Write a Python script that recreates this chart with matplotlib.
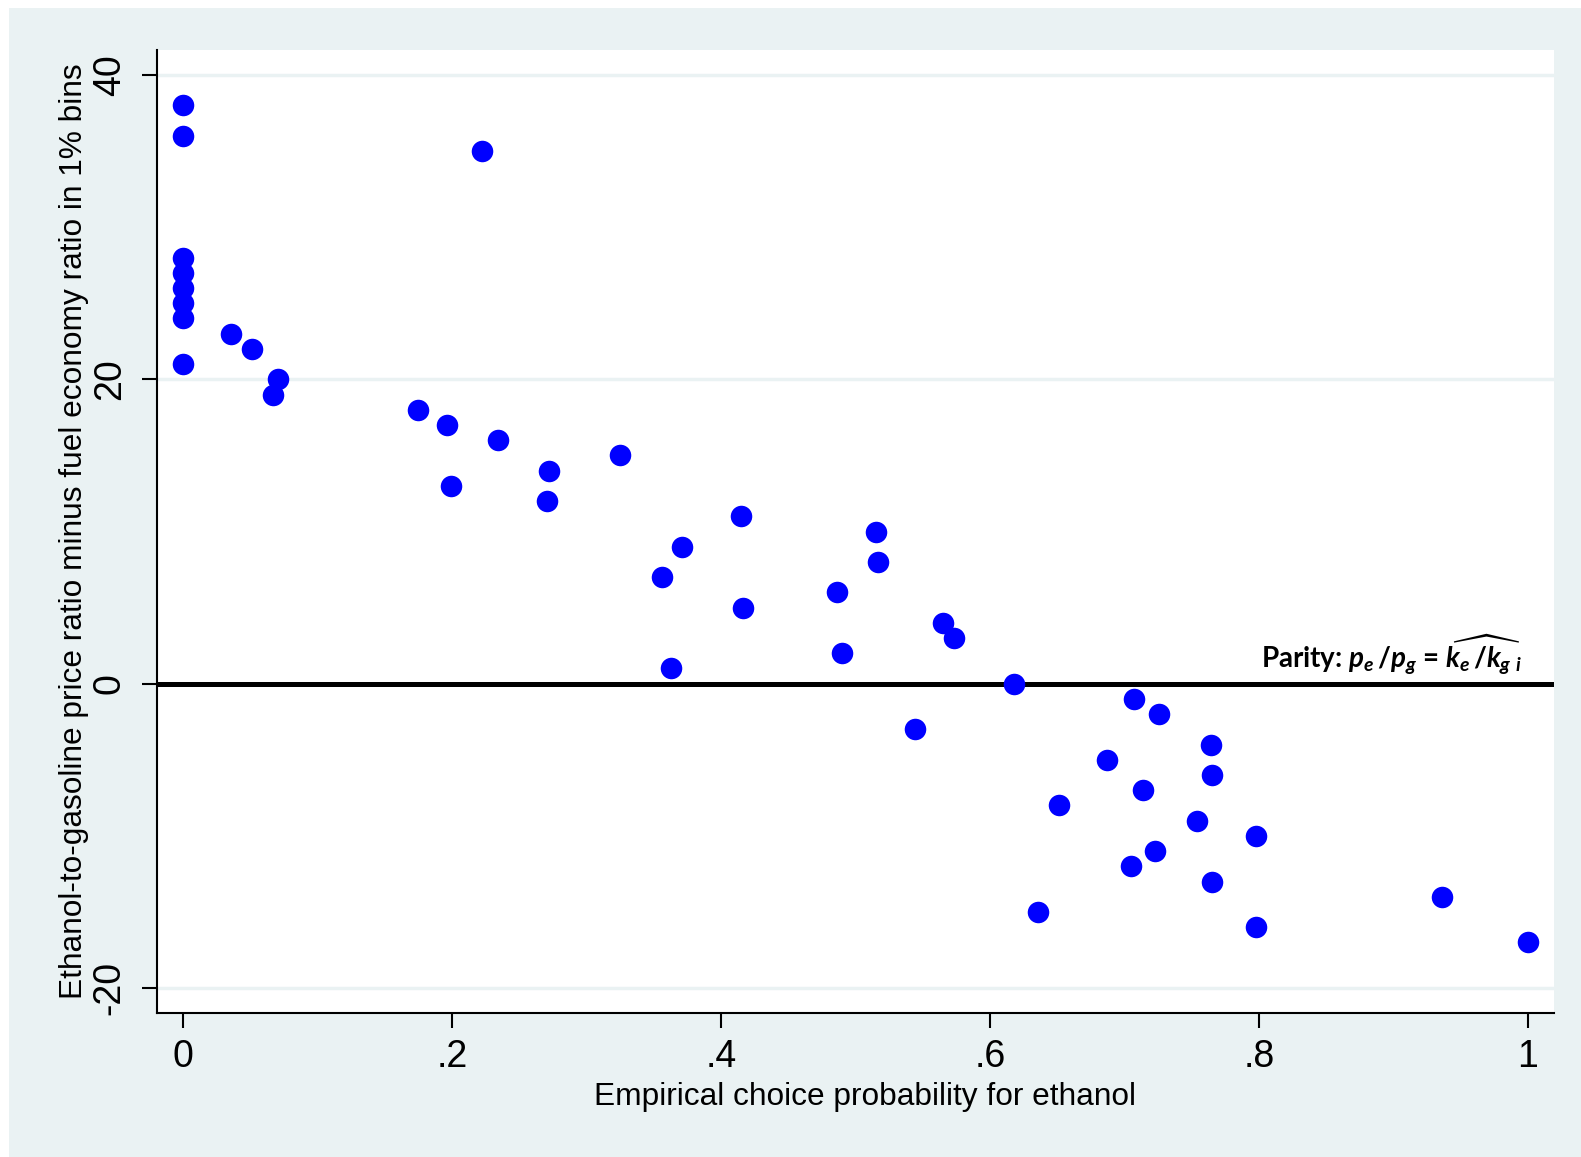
import numpy as np
import matplotlib
matplotlib.use("Agg")
import matplotlib.pyplot as plt
from matplotlib.patches import Rectangle

plt.rcParams['font.family'] = ['Liberation Sans', 'DejaVu Sans']
plt.rcParams['mathtext.fontset'] = 'custom'
plt.rcParams['mathtext.rm'] = 'Lato:bold'
plt.rcParams['mathtext.it'] = 'Lato:bold:italic'
plt.rcParams['mathtext.bf'] = 'Lato:bold'

# empirical choice probability for ethanol, by 1% bin of the price/fuel-economy gap
prob = [0.0, 0.0, 0.222, 0.0, 0.0, 0.0, 0.0, 0.0, 0.0,
        0.036, 0.051, 0.071, 0.067, 0.175, 0.196, 0.234, 0.199,
        0.325, 0.272, 0.271, 0.415, 0.515, 0.371, 0.517, 0.356,
        0.486, 0.416, 0.565, 0.573, 0.490, 0.363, 0.618,
        0.707, 0.726, 0.544, 0.764, 0.687, 0.765, 0.714, 0.651,
        0.754, 0.798, 0.723, 0.705, 0.765, 0.936, 0.636, 0.798, 1.0]
gap = [38, 36, 35, 28, 27, 26, 25, 24, 21,
       23, 22, 20, 19, 18, 17, 16, 13,
       15, 14, 12, 11, 10, 9, 8, 7,
       6, 5, 4, 3, 2, 1, 0,
       -1, -2, -3, -4, -5, -6, -7, -8,
       -9, -10, -11, -12, -13, -14, -15, -16, -17]

xticks = [0, 0.2, 0.4, 0.6, 0.8, 1.0]
xticklabels = ['0', '.2', '.4', '.6', '.8', '1']
yticks = [-20, 0, 20, 40]

bg = '#EAF2F3'

fig = plt.figure(figsize=(15.81, 11.57), dpi=100, facecolor='white')
fig.patches.append(Rectangle((9/1581, 0), 1 - 9/1581, 1 - 8/1157,
                             transform=fig.transFigure, facecolor=bg,
                             edgecolor='none', zorder=-10))
ax = fig.add_axes([157/1581, 1 - 1013/1157, 1397/1581, 963/1157])
ax.set_facecolor('white')

for g in [40, 20, -20]:
    ax.axhline(g, color=bg, lw=2.5, zorder=0)
ax.axhline(0, color='black', lw=3.6, zorder=1)

ax.plot(prob, gap, 'o', color='#0000FF', markersize=15.5, markeredgewidth=0, zorder=3)

ax.set_xlim(-0.0193, 1.0193)
ax.set_ylim(-21.64, 41.64)
ax.set_xticks(xticks)
ax.set_xticklabels(xticklabels)
ax.set_yticks(yticks)
ax.set_yticklabels([str(v) for v in yticks], rotation=90, va='center')

ax.spines['top'].set_visible(False)
ax.spines['right'].set_visible(False)
ax.spines['left'].set_linewidth(1.5)
ax.spines['bottom'].set_linewidth(1.5)
ax.tick_params(axis='both', direction='out', length=11, width=1.5, labelsize=27)
ax.tick_params(axis='x', pad=8)
ax.tick_params(axis='y', pad=10)

ax.set_xlabel('Empirical choice probability for ethanol', fontsize=22.8, labelpad=5)
ax.xaxis.label.set_x(0.507)
ax.set_ylabel('Ethanol-to-gasoline price ratio minus fuel economy ratio in 1% bins',
              fontsize=22.8, labelpad=2)

ax.text(0.996, 0.45, r'Parity: $p_e\,/p_g$ = $\widehat{k_e\,/k_g}_{\ i}$',
        ha='right', va='bottom', fontsize=20, fontweight='bold', family='Lato')

fig.savefig('out.png', dpi=100, facecolor=fig.get_facecolor())
